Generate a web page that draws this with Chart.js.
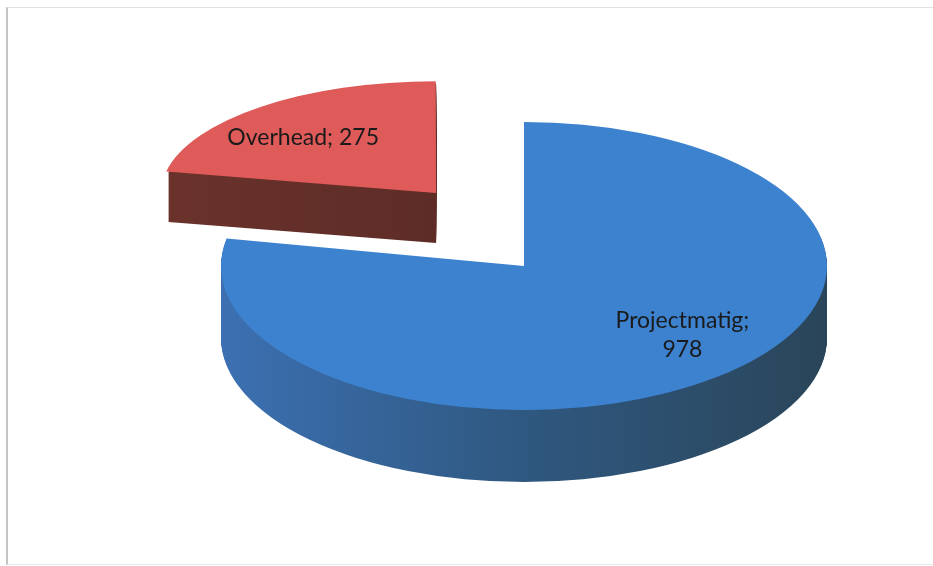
<!DOCTYPE html>
<html>
<head>
<meta charset="utf-8">
<script src="https://cdn.jsdelivr.net/npm/chart.js@4.4.1/dist/chart.umd.min.js"></script>
<style>
  html, body { margin: 0; padding: 0; background: #fff; }
  #wrap { position: relative; width: 933px; height: 566px; overflow: hidden; }
  #frame {
    position: absolute; left: 6px; top: 7px; width: 925px; height: 556px;
    border-left: 2px solid #c4c4c4; border-top: 1px solid #e2e2e2; border-bottom: 1px solid #e8e8e8;
    pointer-events: none;
  }
  canvas { position: absolute; left: 0; top: 0; }
</style>
</head>
<body>
<div id="wrap">
  <div id="frame"></div>
  <canvas id="myChart" width="933" height="566"></canvas>
</div>
<script>
document.addEventListener("DOMContentLoaded", function(event) {

var categories = ["Projectmatig", "Overhead"];
var values = [978, 275];

var topColors = ["#3d82cf", "#de5b5a"];
var sideColors = [
    ["#3c70b2", "#2f5880", "#2a4559"],
    ["#6a322b", "#5e2c27", "#572822"]
];
var explode = [0, 270];
var depth = [72, 50];
// far slice looks smaller (x, y)
var perspective = [[1, 1], [0.9, 0.77]];
var labelFrac = [0.77, 0.72];
var labelNudge = [[10, -16], [-8, 6]];

// where the pie sits on the page (ellipse of the top face)
var view = { cx: 524, cy: 266, rx: 303, ry: 144, lift: 1.44 };

function geom(arc, i) {
    var R = arc.outerRadius;
    var half = (arc.startAngle + arc.endAngle) / 2;
    var off = (arc.options.offset || 0) / 4;
    var ox = Math.cos(half) * off, oy = Math.sin(half) * off;
    return {
        R: R, half: half,
        vx: arc.x + ox, vy: arc.y + oy,
        sx: view.cx + ox / R * view.rx,
        sy: view.cy + oy / R * view.ry * view.lift,
        kx: view.rx / R * perspective[i][0],
        ky: view.ry / R * perspective[i][1]
    };
}

function wedge(ctx, arc, g) {
    ctx.beginPath();
    ctx.moveTo(g.vx, g.vy);
    ctx.arc(g.vx, g.vy, g.R, arc.startAngle, arc.endAngle);
    ctx.closePath();
}

var pie3d = {
    id: "pie3d",
    beforeDatasetsDraw: function(chart) {
        var ctx = chart.ctx;
        var meta = chart.getDatasetMeta(0);
        // far slice first
        for (var i = meta.data.length - 1; i >= 0; i--) {
            var arc = meta.data[i];
            var g = geom(arc, i);
            // side wall: stack the wedge downwards
            for (var d = depth[i]; d >= 1; d--) {
                ctx.save();
                ctx.translate(g.sx, g.sy + d);
                ctx.scale(g.kx, g.ky);
                ctx.translate(-g.vx, -g.vy);
                var grad = ctx.createLinearGradient(g.vx - g.R, 0, g.vx + g.R, 0);
                grad.addColorStop(0, sideColors[i][0]);
                grad.addColorStop(0.5, sideColors[i][1]);
                grad.addColorStop(1, sideColors[i][2]);
                ctx.fillStyle = grad;
                wedge(ctx, arc, g);
                ctx.fill();
                ctx.restore();
            }
            // top face, drawn by the arc element itself
            ctx.save();
            ctx.translate(g.sx, g.sy);
            ctx.scale(g.kx, g.ky);
            ctx.translate(-g.vx, -g.vy);
            arc.draw(ctx);
            ctx.restore();
        }
        return false;
    },
    afterDraw: function(chart) {
        var ctx = chart.ctx;
        var meta = chart.getDatasetMeta(0);
        ctx.save();
        ctx.font = "23px Lato";
        ctx.fillStyle = "#1a1a1a";
        ctx.textAlign = "center";
        ctx.textBaseline = "middle";
        meta.data.forEach(function(arc, i) {
            var g = geom(arc, i);
            var x = g.sx + Math.cos(g.half) * labelFrac[i] * g.R * g.kx + labelNudge[i][0];
            var y = g.sy + Math.sin(g.half) * labelFrac[i] * g.R * g.ky + labelNudge[i][1];
            var text = categories[i] + "; " + values[i];
            var lines = [text];
            if (ctx.measureText(text).width > 165) {
                lines = [categories[i] + ";", String(values[i])];
            }
            var lh = 29;
            lines.forEach(function(line, j) {
                ctx.fillText(line, x, y + (j - (lines.length - 1) / 2) * lh);
            });
        });
        ctx.restore();
    }
};

var ctx = document.getElementById("myChart");

var myPie = new Chart(ctx, {
    type: "pie",
    data: {
        labels: categories,
        datasets: [{
            data: values,
            backgroundColor: topColors,
            borderWidth: 0,
            offset: explode
        }]
    },
    options: {
        responsive: false,
        animation: false,
        layout: { padding: 0 },
        plugins: {
            legend: { display: false },
            tooltip: { enabled: false }
        }
    },
    plugins: [pie3d]
});

});
</script>
</body>
</html>
